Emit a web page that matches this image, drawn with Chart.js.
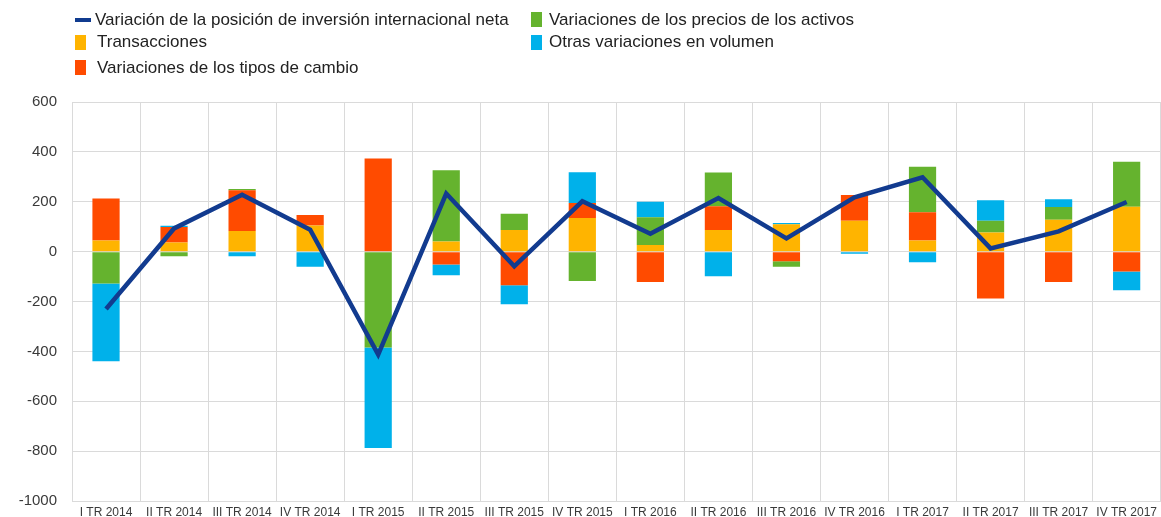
<!DOCTYPE html>
<html>
<head>
<meta charset="utf-8">
<script src="https://cdn.jsdelivr.net/npm/chart.js@4"></script>
<style>
    body { margin: 0; background: #fff; font-family: "Liberation Sans", Arial, sans-serif; }
    #wrap { position: relative; width: 1161px; height: 517px; overflow: hidden; }
    #chart { position: absolute; left: 0; top: 0; }
    .leg { position: absolute; font-size: 17px; color: #222; white-space: nowrap; line-height: 20px; }
    .sw { position: absolute; }
</style>
</head>
<body>
<div id="wrap">
    <canvas id="chart" width="1161" height="525"></canvas>
    <div class="sw" style="left:75px;top:18px;width:16px;height:4px;background:#103b8f"></div>
    <div class="leg" style="left:95px;top:10px">Variación de la posición de inversión internacional neta</div>
    <div class="sw" style="left:531px;top:12px;width:11px;height:15px;background:#65b32e"></div>
    <div class="leg" style="left:549px;top:10px">Variaciones de los precios de los activos</div>
    <div class="sw" style="left:75px;top:35px;width:11px;height:15px;background:#ffb400"></div>
    <div class="leg" style="left:97px;top:32px">Transacciones</div>
    <div class="sw" style="left:531px;top:35px;width:11px;height:15px;background:#00b1ea"></div>
    <div class="leg" style="left:549px;top:32px">Otras variaciones en volumen</div>
    <div class="sw" style="left:75px;top:60px;width:11px;height:15px;background:#ff4b00"></div>
    <div class="leg" style="left:97px;top:58px">Variaciones de los tipos de cambio</div>
</div>
<script>
const quarters = ['I TR 2014', 'II TR 2014', 'III TR 2014', 'IV TR 2014',
    'I TR 2015', 'II TR 2015', 'III TR 2015', 'IV TR 2015',
    'I TR 2016', 'II TR 2016', 'III TR 2016', 'IV TR 2016',
    'I TR 2017', 'II TR 2017', 'III TR 2017', 'IV TR 2017'];

const transacciones = [45, 37, 83, 105, 0, 41, 87, 135, 27, 87, 110, 124, 45, 77, 128, 180];
const tiposCambio = [168, 62, 163, 42, 373, -52, -135, 60, -122, 95, -39, 103, 113, -188, -122, -80];
const preciosActivos = [-128, -19, 5, 0, -384, 285, 65, -118, 111, 135, -22, -3, 182, 47, 51, 180];
const otrasVolumen = [-312, 5, -19, -61, -403, -43, -76, 123, 62, -99, 5, -6, -43, 82, 31, -75];
const posicionNeta = [-230, 93, 228, 88, -413, 233, -59, 202, 72, 215, 53, 218, 298, 13, 81, 199];

const yTicks = { min: -1000, max: 600, step: 200 };

const gridColor = '#dadada';
const textColor = '#3a3a3a';

function barSet(label, data, color) {
    return {
        type: 'bar',
        label: label,
        data: data,
        backgroundColor: color,
        stack: 'bars',
        order: 1,
        categoryPercentage: 1,
        barPercentage: 0.4,
        borderWidth: 0
    };
}

const ctx = document.getElementById('chart').getContext('2d');
new Chart(ctx, {
    data: {
        labels: quarters,
        datasets: [
            {
                type: 'line',
                label: 'Variación de la posición de inversión internacional neta',
                data: posicionNeta,
                borderColor: '#123b8f',
                borderWidth: 4.5,
                pointRadius: 0,
                tension: 0,
                fill: false,
                stack: 'line',
                order: 0
            },
            barSet('Transacciones', transacciones, '#ffb400'),
            barSet('Variaciones de los tipos de cambio', tiposCambio, '#ff4b00'),
            barSet('Variaciones de los precios de los activos', preciosActivos, '#65b32e'),
            barSet('Otras variaciones en volumen', otrasVolumen, '#00b1ea')
        ]
    },
    options: {
        responsive: false,
        animation: false,
        devicePixelRatio: 1,
        layout: { padding: { top: 102, left: 0, right: 0, bottom: 0 } },
        plugins: {
            legend: { display: false },
            tooltip: { enabled: false }
        },
        scales: {
            x: {
                stacked: true,
                offset: true,
                grid: { color: gridColor, offset: true, drawTicks: false },
                border: { color: gridColor },
                ticks: {
                    color: textColor,
                    padding: 4,
                    maxRotation: 0,
                    autoSkip: false,
                    font: { family: '"Liberation Sans", Arial, sans-serif', size: 12 }
                },
                afterFit: scale => { scale.height = 16; }
            },
            y: {
                stacked: true,
                min: yTicks.min,
                max: yTicks.max,
                grid: { color: gridColor, drawTicks: false },
                border: { color: gridColor },
                ticks: {
                    stepSize: yTicks.step,
                    color: textColor,
                    padding: 15,
                    callback: v => String(v),
                    font: { family: '"Liberation Sans", Arial, sans-serif', size: 15 }
                },
                afterFit: scale => { scale.width = 72; }
            }
        }
    }
});
</script>
</body>
</html>
